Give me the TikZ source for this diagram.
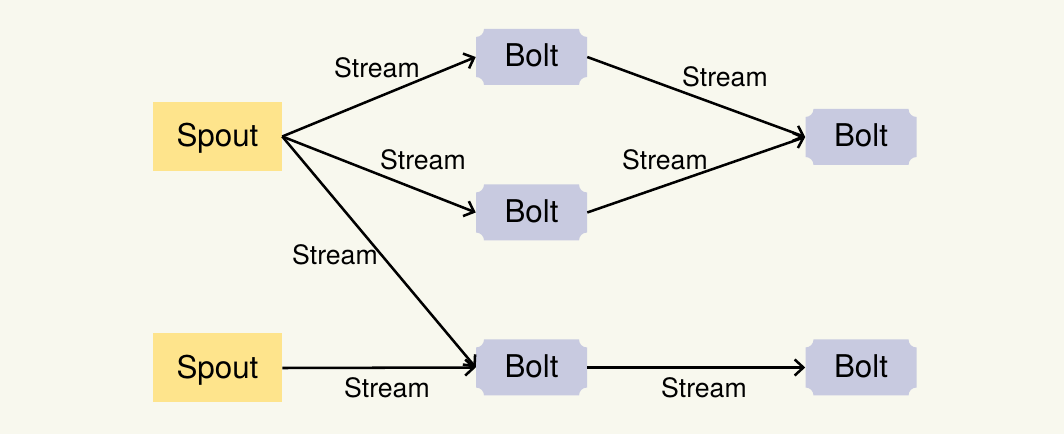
\documentclass[tikz,border=0pt]{standalone}
\usepackage{fontspec}
\setmainfont{TeX Gyre Heros}
\usetikzlibrary{arrows.meta}
\definecolor{paper}{RGB}{248,248,238}
\definecolor{spoutyellow}{RGB}{254,228,140}
\definecolor{boltblue}{RGB}{200,202,224}

\tikzset{
	spout/.style={rectangle, fill=spoutyellow, minimum width=96.75pt, minimum height=51.75pt, text depth=0.25em, font=\fontsize{23.5}{27}\selectfont},
	bolt/.style={rectangle, minimum width=83.25pt, minimum height=42pt, text depth=0.25em, font=\fontsize{23.5}{27}\selectfont,
		path picture={
			\fill[boltblue] ([xshift=6pt]path picture bounding box.north west) -- ([xshift=-6pt]path picture bounding box.north east)
			arc[start angle=180, end angle=270, radius=6pt] -- ([yshift=6pt]path picture bounding box.south east)
			arc[start angle=90, end angle=180, radius=6pt] -- ([xshift=6pt]path picture bounding box.south west)
			arc[start angle=0, end angle=90, radius=6pt] -- ([yshift=-6pt]path picture bounding box.north west)
			arc[start angle=270, end angle=360, radius=6pt] -- cycle;
		}},
	lbl/.style={inner sep=0pt, font=\fontsize{20}{24}\selectfont},
	stream/.style={draw=black, line width=1.9pt, -{Straight Barb[length=6.5pt, width=12pt, line width=1.9pt]}}
}

\begin{document}
\begin{tikzpicture}[x=0.75pt, y=0.75pt]
	\fill[paper] (0,0) rectangle (1064,-434);
	\useasboundingbox (0,0) rectangle (1064,-434);

	\node[spout] (spout1) at (217.5,-136.5) {Spout};
	\node[spout] (spout2) at (217.5,-368) {Spout};
	\node[bolt] (bolt1) at (531.5,-57) {Bolt};
	\node[bolt] (bolt2) at (531.5,-212.5) {Bolt};
	\node[bolt] (bolt3) at (531.5,-367.5) {Bolt};
	\node[bolt] (bolt4) at (861,-137) {Bolt};
	\node[bolt] (bolt5) at (861,-367.5) {Bolt};

	\node[lbl] (s1) at (377,-68) {Stream};
	\node[lbl] (s2) at (423,-160) {Stream};
	\node[lbl] (s3) at (335,-255) {Stream};
	\node[lbl] (s4) at (387,-388) {Stream};
	\node[lbl] (s5) at (725,-77) {Stream};
	\node[lbl] (s6) at (665,-160) {Stream};
	\node[lbl] (s7) at (704,-388) {Stream};

	\draw[stream] (spout1.east) -- (bolt1.west);
	\draw[stream] (spout1.east) -- (bolt2.west);
	\draw[stream] (spout1.east) -- (bolt3.west);
	\draw[stream] (spout2.east) -- (bolt3.west);
	\draw[stream] (bolt1.east) -- (bolt4.west);
	\draw[stream] (bolt2.east) -- (bolt4.west);
	\draw[stream] (bolt3.east) -- (bolt5.west);
\end{tikzpicture}
\end{document}
